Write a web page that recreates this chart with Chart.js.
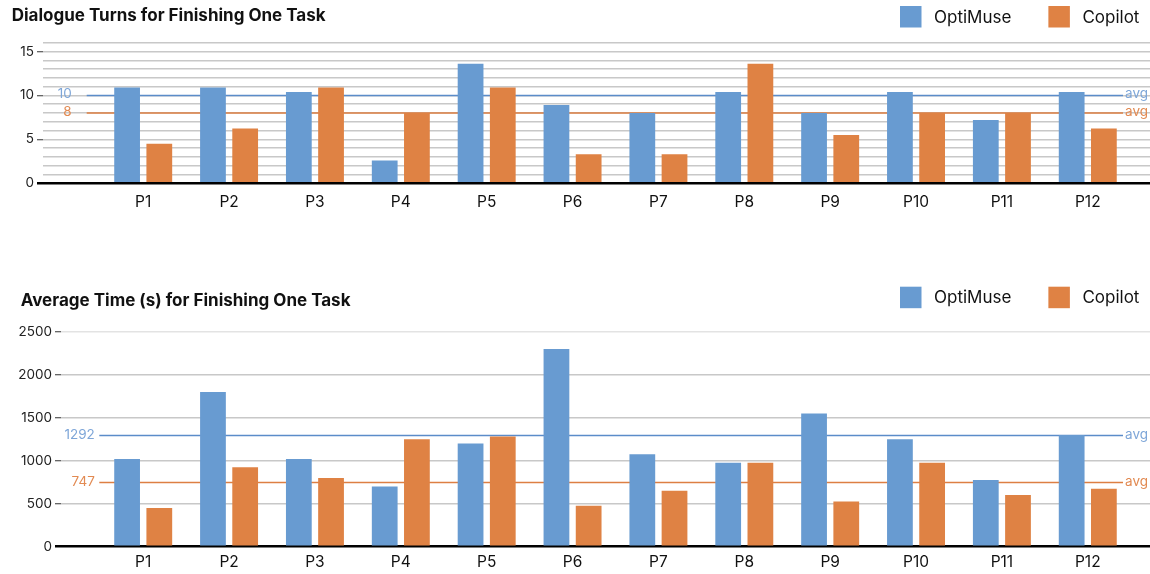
<!DOCTYPE html>
<html lang="en">
<head>
<meta charset="UTF-8">
<title>Dialogue Turns and Time per Task</title>
<script src="https://cdn.jsdelivr.net/npm/chart.js"></script>
<style>
  body { margin: 0; background: #fff; font-family: Inter, sans-serif; }
  .wrap { position: relative; width: 1150px; height: 574px; }
  .box { position: absolute; left: 0; width: 1150px; }
  #turnsBox { top: 0; height: 214px; }
  #timeBox { top: 280px; height: 294px; }
</style>
</head>
<body>
<div class="wrap">
  <div class="box" id="turnsBox"><canvas id="turnsChart"></canvas></div>
  <div class="box" id="timeBox"><canvas id="timeChart"></canvas></div>
</div>
<script>
const participants = ['P1', 'P2', 'P3', 'P4', 'P5', 'P6', 'P7', 'P8', 'P9', 'P10', 'P11', 'P12'];
const seriesNames = ['OptiMuse', 'Copilot'];

// dialogue turns
const optiTurns = [10.9, 10.9, 10.4, 2.6, 13.6, 8.9, 8.0, 10.4, 8.0, 10.4, 7.2, 10.4];
const copilotTurns = [4.5, 6.25, 10.9, 8.0, 10.9, 3.3, 3.3, 13.6, 5.5, 8.0, 8.0, 6.25];
const avgTurns = [10, 8];
const turnTicks = [0, 5, 10, 15];

// time in seconds
const optiTime = [1020, 1800, 1020, 700, 1200, 2300, 1075, 975, 1550, 1250, 775, 1300];
const copilotTime = [450, 925, 800, 1250, 1280, 475, 650, 975, 525, 975, 600, 675];
const avgTime = [1292, 747];
const timeTicks = [0, 500, 1000, 1500, 2000, 2500];

const BLUE = '#689bd1', ORANGE = '#df8244';
const LINE_COLORS = ['#5b8cc9', '#dd7f43'];
const AVG_TEXT = ['#7ea6d8', '#e28a52'];

// where P1 sits and how far apart the groups are (px)
const FIRST_CENTER = 143.2, STEP = 85.87, WIDTH = 1150;

const headerPlugin = {
  id: 'header',
  afterDraw(chart, args, opts) {
    const ctx = chart.ctx;
    ctx.save();
    ctx.textBaseline = 'middle';
    ctx.textAlign = 'left';
    ctx.font = 'bold 17px Inter';
    ctx.fillStyle = '#111';
    ctx.fillText(opts.text, opts.x, opts.y);
    ctx.font = '17px Inter';
    let x = 900;
    chart.data.datasets.forEach(ds => {
      ctx.fillStyle = ds.backgroundColor;
      ctx.fillRect(x, opts.legendTop, 21.5, 21.5);
      ctx.fillStyle = '#111';
      ctx.fillText(ds.label, x + 34, opts.legendTop + 11.5);
      x += 34 + ctx.measureText(ds.label).width + 37;
    });
    ctx.restore();
  }
};

const avgPlugin = {
  id: 'avgLines',
  beforeDatasetsDraw(chart, args, opts) {
    const { ctx, chartArea: a } = chart;
    const y = chart.scales.y;
    opts.values.forEach((v, i) => {
      const py = y.getPixelForValue(v);
      const x0 = a.left + opts.start, x1 = a.right - 27;
      ctx.save();
      ctx.strokeStyle = LINE_COLORS[i];
      ctx.lineWidth = 1.5;
      ctx.beginPath();
      ctx.moveTo(x0, py);
      ctx.lineTo(x1, py);
      ctx.stroke();
      ctx.font = '13.5px Inter';
      ctx.fillStyle = AVG_TEXT[i];
      ctx.textBaseline = 'middle';
      ctx.textAlign = 'right';
      ctx.fillText(String(v), x0 - opts.gap, py - 1);
      ctx.textAlign = 'left';
      ctx.fillText('avg', x1 + 2, py - 1);
      ctx.restore();
    });
  }
};

function barData(values) {
  return values.map((v, i) => ({ x: i + 1, y: v }));
}

function makeChart(id, c) {
  const xMin = 1 - (FIRST_CENTER - c.axisWidth) / STEP;
  const xMax = participants.length + (WIDTH - (FIRST_CENTER + (participants.length - 1) * STEP)) / STEP;
  return new Chart(document.getElementById(id), {
    type: 'bar',
    data: {
      datasets: [
        { label: seriesNames[0], data: barData(c.opti), backgroundColor: BLUE,
          categoryPercentage: 0.75, barPercentage: 0.8 },
        { label: seriesNames[1], data: barData(c.copilot), backgroundColor: ORANGE,
          categoryPercentage: 0.75, barPercentage: 0.8 }
      ]
    },
    options: {
      responsive: true,
      maintainAspectRatio: false,
      animation: false,
      layout: { padding: { top: c.areaTop, left: 0, right: 0, bottom: 0 } },
      plugins: {
        legend: { display: false },
        tooltip: { enabled: false },
        header: { text: c.title, x: c.titleX, y: c.titleY, legendTop: c.legendTop },
        avgLines: { values: c.avg, start: c.avgStart, gap: c.avgGap }
      },
      scales: {
        x: {
          type: 'linear',
          offset: false,
          min: xMin,
          max: xMax,
          afterBuildTicks: s => { s.ticks = participants.map((p, i) => ({ value: i + 1 })); },
          afterFit: s => { s.height = c.xHeight; },
          grid: { display: false, drawTicks: false, offset: false },
          border: { display: false },
          ticks: {
            padding: c.xPad,
            autoSkip: false,
            maxRotation: 0,
            color: '#111',
            font: { family: 'Inter', size: 15.5 },
            callback: v => participants[v - 1]
          }
        },
        y: {
          min: 0,
          max: c.yMax,
          afterFit: s => { s.width = c.axisWidth; },
          border: { display: false },
          grid: {
            color: g => g.tick.value === 0 ? '#000' : (g.tick.value === c.yMax && c.yMax > 100 ? '#e3e3e3' : '#c8c8c8'),
            lineWidth: g => g.tick.value === 0 ? 2.5 : 1.5,
            tickColor: g => g.tick.value === 0 ? '#000' : (c.yTicks.includes(g.tick.value) ? '#333' : 'rgba(0,0,0,0)'),
            tickWidth: g => g.tick.value === 0 ? 2.5 : 1,
            tickLength: 6
          },
          ticks: {
            stepSize: c.step,
            autoSkip: false,
            padding: 3,
            color: '#222',
            font: { family: 'Inter', size: 13.5 },
            callback: v => c.yTicks.includes(v) ? String(v) : ''
          }
        }
      }
    },
    plugins: [headerPlugin, avgPlugin]
  });
}

makeChart('turnsChart', {
  title: 'Dialogue Turns for Finishing One Task', titleX: 11.7, titleY: 15.5, legendTop: 6,
  opti: optiTurns, copilot: copilotTurns, avg: avgTurns, yTicks: turnTicks,
  yMax: 16, step: 1, axisWidth: 43, areaTop: 42.7, xHeight: 30.7, xPad: 10,
  avgStart: 43.7, avgGap: 15
});

makeChart('timeChart', {
  title: 'Average Time (s) for Finishing One Task', titleX: 20.7, titleY: 20.8, legendTop: 6.7,
  opti: optiTime, copilot: copilotTime, avg: avgTime, yTicks: timeTicks,
  yMax: 2500, step: 500, axisWidth: 61, areaTop: 51.7, xHeight: 27.3, xPad: 6,
  avgStart: 38.3, avgGap: 4.5
});
</script>
</body>
</html>
